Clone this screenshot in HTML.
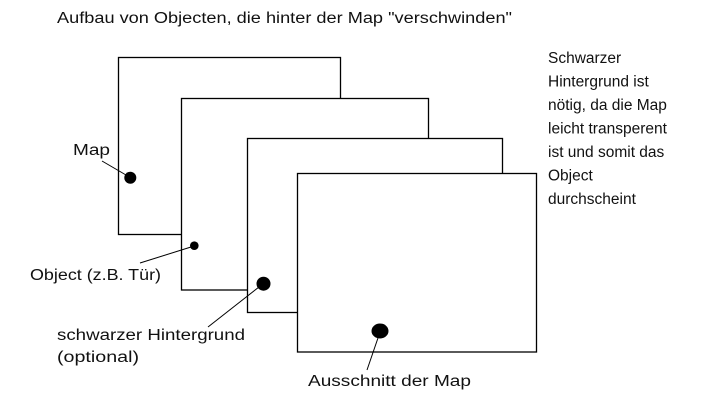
<!DOCTYPE html>
<html><head><meta charset="utf-8"><style>
html,body{margin:0;padding:0;background:#fff;}
svg{display:block;}
text{font-family:"Liberation Sans",sans-serif;font-size:15.5px;fill:#111;}
</style></head><body>
<svg width="710" height="418" viewBox="0 0 710 418" xmlns="http://www.w3.org/2000/svg">
<g fill="#fff" stroke="#000" stroke-width="1.3">
<rect x="118.5" y="57.5" width="222" height="177"/>
<rect x="181.5" y="98.5" width="247" height="191.5"/>
<rect x="247.5" y="138.5" width="255" height="174"/>
<rect x="297.5" y="173.5" width="239" height="178.5"/>
</g>
<g stroke="#000" stroke-width="1">
<line x1="102" y1="161" x2="126" y2="175"/>
<line x1="140" y1="263" x2="191" y2="247"/>
<line x1="208" y1="327" x2="259" y2="287"/>
<line x1="367" y1="370" x2="379" y2="335"/>
</g>
<g fill="#000">
<ellipse cx="130.3" cy="177.7" rx="6" ry="6"/>
<ellipse cx="194.3" cy="245.7" rx="4.3" ry="4.3"/>
<ellipse cx="263.5" cy="283.7" rx="7" ry="7"/>
<ellipse cx="380" cy="331" rx="8.5" ry="7.5"/>
</g>
<text x="57" y="23" textLength="455" lengthAdjust="spacingAndGlyphs">Aufbau von Objecten, die hinter der Map "verschwinden"</text>
<text x="73" y="155" textLength="37" lengthAdjust="spacingAndGlyphs">Map</text>
<text x="30" y="280" textLength="131" lengthAdjust="spacingAndGlyphs">Object (z.B. Tür)</text>
<text x="57" y="340" textLength="188" lengthAdjust="spacingAndGlyphs">schwarzer Hintergrund</text>
<text x="57" y="362" textLength="82" lengthAdjust="spacingAndGlyphs">(optional)</text>
<text x="308" y="386" textLength="163" lengthAdjust="spacingAndGlyphs">Ausschnitt der Map</text>
<text x="548" y="63">Schwarzer</text>
<text x="548" y="86.5">Hintergrund ist</text>
<text x="548" y="110">nötig, da die Map</text>
<text x="548" y="133.5">leicht transperent</text>
<text x="548" y="157">ist und somit das</text>
<text x="548" y="180.5">Object</text>
<text x="548" y="204">durchscheint</text>
</svg>
</body></html>
